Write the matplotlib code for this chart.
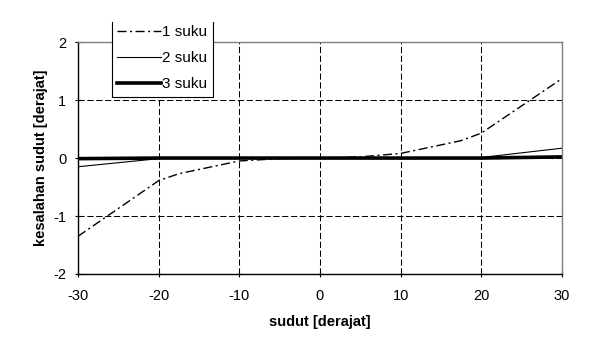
import matplotlib
matplotlib.use("Agg")
import matplotlib.pyplot as plt
from matplotlib.transforms import Bbox

plt.rcParams['font.family'] = ['Liberation Sans', 'DejaVu Sans']
plt.rcParams['axes.unicode_minus'] = False

# data
sudut = [-30, -20, -17.5, -10, -5, 0, 5, 10, 17.5, 20, 30]
suku1 = [-1.35, -0.39, -0.27, -0.05, -0.01, 0.0, 0.02, 0.08, 0.30, 0.43, 1.37]
suku2 = [-0.15, -0.01, 0.0, 0.0, 0.0, 0.0, 0.0, 0.0, 0.0, 0.01, 0.17]
suku3 = [-0.01, 0.0, 0.0, 0.0, 0.0, 0.0, 0.0, 0.0, 0.0, 0.0, 0.02]

xticks = [-30, -20, -10, 0, 10, 20, 30]
yticks = [-2, -1, 0, 1, 2]

fig = plt.figure(figsize=(5.94, 3.51), dpi=100)
ax = fig.add_axes([0.1313, 0.2194, 0.8147, 0.6606])

ax.plot(sudut, suku1, color='black', lw=1.0, linestyle=(0, (6.5, 2.5, 1.5, 2.5)), label='1 suku')
ax.plot(sudut, suku2, color='black', lw=0.8, label='2 suku')
ax.plot(sudut, suku3, color='black', lw=2.6, label='3 suku')

ax.set_xlim(-30, 30)
ax.set_ylim(-2, 2)
ax.set_xticks(xticks)
ax.set_yticks(yticks)
ax.grid(True, color='black', lw=0.75, linestyle=(0, (6, 2.5)))
ax.set_axisbelow(True)

for s in ['top', 'right']:
    ax.spines[s].set_color('#808080')
    ax.spines[s].set_linewidth(1.0)
for s in ['left', 'bottom']:
    ax.spines[s].set_color('black')
    ax.spines[s].set_linewidth(1.0)

ax.tick_params(direction='inout', length=5, width=0.8, labelsize=10.5)
ax.tick_params(axis='x', pad=8)
ax.tick_params(axis='y', pad=6)

ax.set_xlabel('sudut [derajat]', fontsize=10.5, fontweight='bold', labelpad=9)
ax.set_ylabel('kesalahan sudut [derajat]', fontsize=10.5, fontweight='bold', labelpad=4)

leg = ax.legend(loc='upper left', bbox_to_anchor=(111.7 / 594, 1 - 20 / 351),
                bbox_transform=fig.transFigure, fontsize=11, frameon=True,
                fancybox=False, edgecolor='black', framealpha=1,
                handlelength=2.9, handletextpad=0.05, borderpad=0.35,
                labelspacing=0.78, borderaxespad=0)
leg.get_frame().set_linewidth(0.8)
# the legend box is cut at its top edge in the original
leg.get_frame().set_clip_box(Bbox.from_extents(0, 0, 594, 351 - 21.5))
leg.get_frame().set_clip_on(True)

fig.savefig('out.png', dpi=100)
